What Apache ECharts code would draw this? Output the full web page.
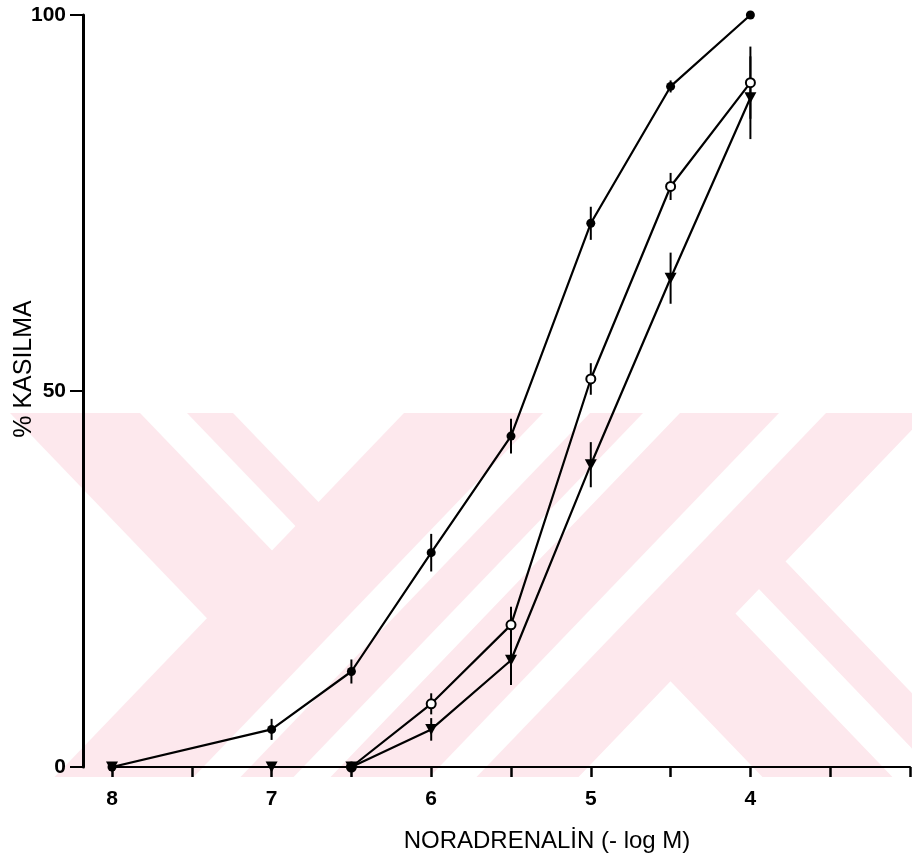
<!DOCTYPE html>
<html>
<head>
<meta charset="utf-8">
<script src="https://cdn.jsdelivr.net/npm/echarts@6/dist/echarts.min.js"></script>
<style>html,body{margin:0;padding:0;background:#fff}#c{width:912px;height:863px}</style>
</head>
<body>
<div id="c"></div>
<script>
// ---- data ----
const xFilled = [8, 7, 6.5, 6, 5.5, 5, 4.5, 4];
const yFilled = [0, 5, 12.7, 28.5, 44, 72.3, 90.5, 100];
const eFilled = [0, 1.4, 1.6, 2.5, 2.3, 2.2, 0.8, 0];

const xOpen = [6.5, 6, 5.5, 5, 4.5, 4];
const yOpen = [0, 8.4, 18.9, 51.6, 77.2, 91];
const eOpen = [0, 1.4, 2.4, 2.1, 1.8, 4.8];

const xTri = [8, 7, 6.5, 6, 5.5, 5, 4.5, 4];
const yTri = [0, 0, 0, 5, 14.2, 40.2, 65, 89];
const eTri = [0, 0, 0, 1.5, 3.3, 3.0, 3.4, 5.5];

const xTickLabels = [8, 7, 6, 5, 4];
const yTickLabels = [0, 50, 100];

// ---- watermark (decorative background, pixel geometry) ----
const T = 413, B = 777, K = 0.96;
const PINK = '#fde8ed', WHITE = '#ffffff';
function fwd(a, b) { const s = (B - T) * K; return [[a, T], [b, T], [b - s, B], [a - s, B]]; }
function backTop(a, b, c) {
  const ta = (c - a) / (2 * K), tb = (c - b) / (2 * K);
  return [[a, T], [b, T], [b + K * tb, T + tb], [a + K * ta, T + ta]];
}
function backBot(a, b, c) {
  const ta = (c - a) / (2 * K), tb = (c - b) / (2 * K), s = (B - T) * K;
  return [[b + K * tb, T + tb], [b + s, B], [a + s, B], [a + K * ta, T + ta]];
}
const wmShapes = [
  [backTop(10, 233, 523), PINK], [backTop(140, 187, 523), WHITE],
  [fwd(404, 643), PINK], [fwd(543, 590), WHITE],
  [backBot(413, 643, 804), PINK], [backBot(543, 590, 804), WHITE],
  [fwd(680, 928), PINK], [fwd(779, 826), WHITE]
];
const wm = wmShapes.map((d, i) => ({
  type: 'polygon', silent: true, z: -10 + i * 0.01,
  shape: { points: d[0] }, style: { fill: d[1] }
}));

function pairs(xs, ys) { return xs.map((x, i) => [x, ys[i]]); }
function errs(xs, ys, es) {
  const out = [];
  xs.forEach((x, i) => { if (es[i] > 0) out.push([x, ys[i] - es[i], ys[i] + es[i]]); });
  return out;
}
function errSeries(data) {
  return {
    type: 'custom', z: 3, silent: true,
    renderItem: function (params, api) {
      const p1 = api.coord([api.value(0), api.value(1)]);
      const p2 = api.coord([api.value(0), api.value(2)]);
      return { type: 'line', shape: { x1: p1[0], y1: p1[1], x2: p2[0], y2: p2[1] }, style: { stroke: '#000', lineWidth: 2 } };
    },
    encode: { x: 0, y: [1, 2] },
    data: data
  };
}
// open-circle points; the one lying on the baseline is hidden in a black blob with the triangle
const openData = pairs(xOpen, yOpen).map(p => p[1] === 0
  ? { value: p, itemStyle: { color: '#000', borderColor: '#000' } }
  : p);

const FONT = 'Liberation Sans, Arial, sans-serif';
const chart = echarts.init(document.getElementById('c'), null, { renderer: 'canvas' });
chart.setOption({
  backgroundColor: '#fff',
  animation: false,
  graphic: wm,
  grid: { left: 112, right: 2, top: 15, bottom: 96, outerBoundsMode: 'none' },
  xAxis: {
    type: 'value', min: 3, max: 8, interval: 0.5, inverse: true,
    name: 'NORADRENALİN (- log M)', nameLocation: 'middle', nameGap: 62, nameMoveOverlap: false,
    nameTextStyle: { fontFamily: FONT, fontSize: 24, color: '#000', padding: [0, 0, 0, 72] },
    axisLine: { show: true, lineStyle: { color: '#000', width: 2 } },
    axisTick: { show: true, length: 10, lineStyle: { color: '#000', width: 2.5 } },
    splitLine: { show: false },
    axisLabel: {
      margin: 22, fontFamily: FONT, fontSize: 21, fontWeight: 'bold', color: '#000',
      showMinLabel: true, showMaxLabel: true,
      formatter: v => xTickLabels.indexOf(v) >= 0 ? String(v) : ''
    }
  },
  yAxis: {
    type: 'value', min: 0, max: 100, interval: 50, offset: 29,
    name: '% KASILMA', nameLocation: 'middle', nameRotate: 90, nameGap: 46, nameMoveOverlap: false,
    nameTextStyle: { fontFamily: FONT, fontSize: 25, color: '#000', padding: [0, 0, 0, 44] },
    axisLine: { show: true, lineStyle: { color: '#000', width: 3 } },
    axisTick: { show: true, length: 13, lineStyle: { color: '#000', width: 2 } },
    splitLine: { show: false },
    axisLabel: {
      margin: 17, fontFamily: FONT, fontSize: 21, fontWeight: 'bold', color: '#000',
      formatter: v => yTickLabels.indexOf(v) >= 0 ? String(v) : ''
    }
  },
  series: [
    errSeries(errs(xFilled, yFilled, eFilled)),
    errSeries(errs(xOpen, yOpen, eOpen)),
    errSeries(errs(xTri, yTri, eTri)),
    {
      type: 'line', data: pairs(xFilled, yFilled), z: 4,
      lineStyle: { color: '#000', width: 2.2 },
      symbol: 'circle', symbolSize: 9, itemStyle: { color: '#000' }
    },
    {
      type: 'line', data: openData, z: 5,
      lineStyle: { color: '#000', width: 2.2 },
      symbol: 'circle', symbolSize: 9, itemStyle: { color: '#fff', borderColor: '#000', borderWidth: 2 }
    },
    {
      type: 'line', data: pairs(xTri, yTri), z: 6,
      lineStyle: { color: '#000', width: 2.2 },
      symbol: 'triangle', symbolRotate: 180, symbolSize: [12, 11], itemStyle: { color: '#000' }
    }
  ]
});
</script>
</body>
</html>
